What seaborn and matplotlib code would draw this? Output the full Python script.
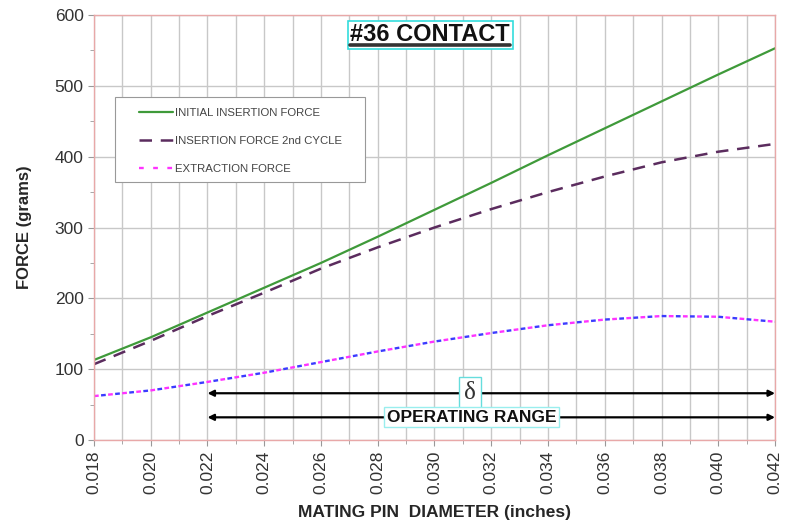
import matplotlib
matplotlib.use("Agg")
import matplotlib.pyplot as plt
import matplotlib.ticker as mticker
from matplotlib.patches import Rectangle
import seaborn as sns
import pandas as pd

# -----------------------------
# Data
# -----------------------------
diameter = [0.018, 0.020, 0.022, 0.024, 0.026, 0.028, 0.030,
            0.032, 0.034, 0.036, 0.038, 0.040, 0.042]
initial_insertion = [113, 145, 180, 215, 250, 287, 325,
                     363, 402, 440, 478, 516, 553]
insertion_2nd = [107, 140, 175, 208, 242, 272, 300,
                 326, 350, 372, 392, 407, 418]
extraction = [62, 70, 82, 95, 110, 125, 139,
              151, 162, 170, 175, 174, 167]

x_ticks = [0.018, 0.020, 0.022, 0.024, 0.026, 0.028, 0.030,
           0.032, 0.034, 0.036, 0.038, 0.040, 0.042]
y_ticks = [0, 100, 200, 300, 400, 500, 600]

range_start = 0.022
range_end = 0.042
delta_y = 66
operating_y = 32

df = pd.DataFrame({
    "diameter": diameter,
    "initial": initial_insertion,
    "second": insertion_2nd,
    "extraction": extraction,
})

sns.set_style("white")
plt.rcParams["font.family"] = ["Liberation Sans", "DejaVu Sans"]

fig = plt.figure(figsize=(7.94, 5.26), dpi=100)
ax = fig.add_axes([94 / 794, 1 - 440 / 526, 681 / 794, 425 / 526])

# -----------------------------
# Lines
# -----------------------------
sns.lineplot(data=df, x="diameter", y="initial", ax=ax, color="#3f9a3a",
             linewidth=1.6, label="INITIAL INSERTION FORCE")
sns.lineplot(data=df, x="diameter", y="second", ax=ax, color="#5b2c5e",
             linewidth=1.8, linestyle=(0, (5, 3.5)),
             label="INSERTION FORCE 2nd CYCLE")
sns.lineplot(data=df, x="diameter", y="extraction", ax=ax, color="#ff33ff",
             linewidth=1.7, linestyle=(0, (2, 4)),
             label="EXTRACTION FORCE")
sns.lineplot(data=df, x="diameter", y="extraction", ax=ax, color="#3b3bff",
             linewidth=1.7, linestyle=(3, (2, 4)), label="_nolegend_")

# -----------------------------
# Axes
# -----------------------------
ax.set_xlim(0.018, 0.042)
ax.set_ylim(0, 600)
ax.set_xticks(x_ticks)
ax.set_xticklabels([f"{t:.3f}" for t in x_ticks], rotation=90)
ax.set_yticks(y_ticks)
ax.xaxis.set_minor_locator(mticker.MultipleLocator(0.001))
ax.yaxis.set_minor_locator(mticker.MultipleLocator(50))
ax.grid(True, which="major", color="#c8c8c8", linewidth=1)
ax.grid(True, which="minor", axis="x", color="#c8c8c8", linewidth=1)
ax.tick_params(axis="both", which="major", labelsize=12.5, labelcolor="#333333",
               length=4, color="#999999", direction="out",
               bottom=True, left=True)
ax.tick_params(axis="both", which="minor", length=3, color="#999999",
               bottom=True, left=True)
for spine in ax.spines.values():
    spine.set_color("#e8a8a8")
    spine.set_linewidth(1)

ax.set_xlabel("MATING PIN  DIAMETER (inches)", fontsize=12.5,
              fontweight="bold", labelpad=8)
ax.set_ylabel("FORCE (grams)", fontsize=12, fontweight="bold", labelpad=16)

# -----------------------------
# Legend (own frame so it can be wider than its content)
# -----------------------------
ax.add_patch(Rectangle((21 / 681, 258 / 425), 250 / 681, 85 / 425,
                       transform=ax.transAxes, facecolor="white",
                       edgecolor="#999999", linewidth=0.8, zorder=4))
leg = ax.legend(loc="upper left", bbox_to_anchor=(34 / 681, 343 / 425),
                fontsize=8.2, frameon=False, handlelength=3.0,
                labelspacing=1.6, borderpad=0.95, handletextpad=0.15,
                borderaxespad=0)
leg.set_zorder(5)
for txt in leg.get_texts():
    txt.set_color("#444444")

# -----------------------------
# Title
# -----------------------------
title = ax.text(0.02985, 572, "#36 CONTACT", ha="center", va="center",
                fontsize=17, fontweight="bold", color="#111111",
                bbox=dict(boxstyle="square,pad=0.12", facecolor="white",
                          edgecolor="#33dddd", linewidth=1.2))
fig.canvas.draw()
tb = title.get_window_extent()
inv = fig.transFigure.inverted()
(x0, y0), (x1, _) = inv.transform([(tb.x0, tb.y0 + 1), (tb.x1, tb.y0 + 1)])
fig.add_artist(plt.Line2D([x0, x1], [y0, y0], color="#333333", linewidth=2.6,
                          transform=fig.transFigure))

# -----------------------------
# Range arrows
# -----------------------------
arrow_style = dict(arrowstyle="<|-|>", color="black", lw=1.6,
                   mutation_scale=9, shrinkA=0, shrinkB=0)
ax.annotate("", xy=(range_end, delta_y), xytext=(range_start, delta_y),
            arrowprops=arrow_style)
ax.annotate("", xy=(range_end, operating_y), xytext=(range_start, operating_y),
            arrowprops=arrow_style)

ax.text(0.03125, delta_y, "δ", ha="center", va="center", fontsize=18,
        family=["Liberation Serif", "DejaVu Serif"], color="#333333",
        bbox=dict(boxstyle="square,pad=0.2", facecolor="white",
                  edgecolor="#66dddd", linewidth=1))
ax.text(0.0313, operating_y, "OPERATING RANGE", ha="center", va="center",
        fontsize=12.5, fontweight="bold", color="#111111",
        bbox=dict(boxstyle="square,pad=0.15", facecolor="white",
                  edgecolor="#99eeee", linewidth=1))

fig.savefig("out.png", dpi=100)
plt.close(fig)
